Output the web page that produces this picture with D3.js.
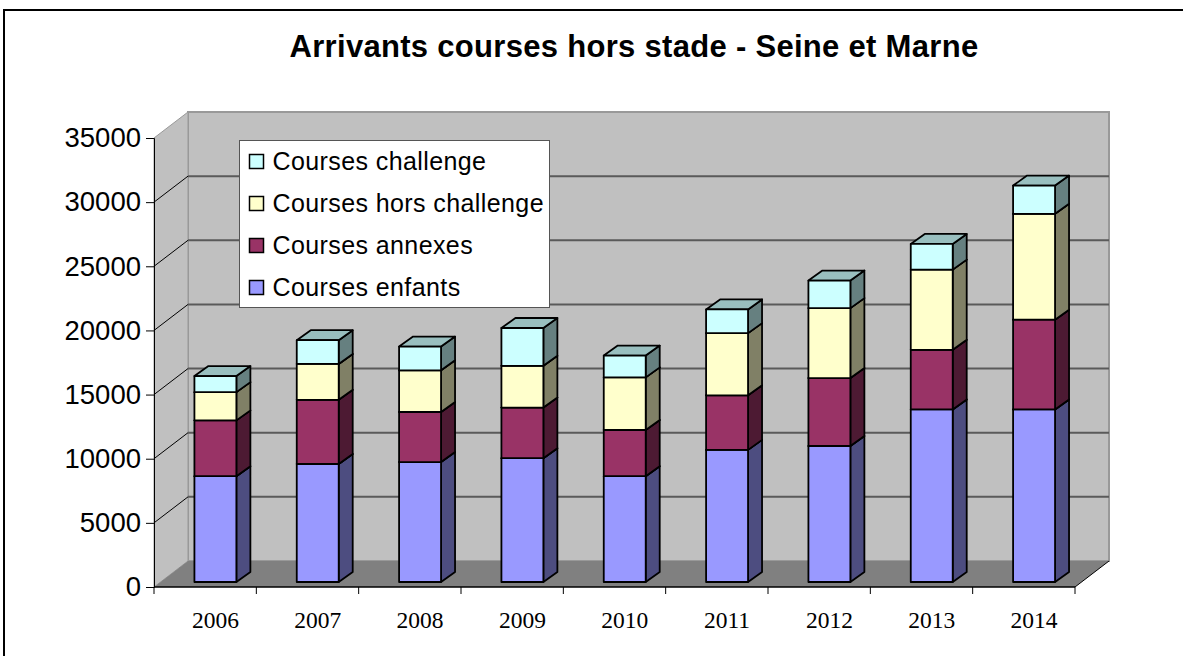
<!DOCTYPE html>
<html>
<head>
<meta charset="utf-8">
<script src="https://cdn.jsdelivr.net/npm/d3@7"></script>
<style>
  body { margin: 0; background: #fff; }
  svg { display: block; }
</style>
</head>
<body>
<svg width="1183" height="656"></svg>
<script>
// data
var years = ["2006", "2007", "2008", "2009", "2010", "2011", "2012", "2013", "2014"];
var enfants = [8250, 9200, 9350, 9650, 8250, 10300, 10600, 13450, 13450];
var annexes = [4350, 5000, 3900, 3950, 3600, 4250, 5300, 4650, 7000];
var horsChallenge = [2200, 2800, 3250, 3250, 4100, 4850, 5450, 6250, 8250];
var challenge = [1250, 1850, 1850, 2950, 1700, 1850, 2150, 2000, 2200];
var yTicks = [0, 5000, 10000, 15000, 20000, 25000, 30000, 35000];

var seriesKeys = ["enfants", "annexes", "hors", "challenge"];
var seriesNames = {
  enfants: "Courses enfants",
  annexes: "Courses annexes",
  hors: "Courses hors challenge",
  challenge: "Courses challenge"
};
// front, side, top shades (like excel 3d)
var colors = {
  enfants:   ["#9999FF", "#4D4D80", "#7373BF"],
  annexes:   ["#993366", "#4D1A33", "#732649"],
  hors:      ["#FFFFCC", "#808066", "#BFBF99"],
  challenge: ["#CCFFFF", "#668080", "#99BFBF"]
};

var rows = years.map(function(y, i) {
  return {year: y, enfants: enfants[i], annexes: annexes[i], hors: horsChallenge[i], challenge: challenge[i]};
});
var stacked = d3.stack().keys(seriesKeys)(rows);

var svg = d3.select("svg");
var sans = "'Liberation Sans', Arial, sans-serif";

// outer frame (right / bottom edge are outside the picture)
svg.append("rect")
  .attr("x", 4).attr("y", 10).attr("width", 1250).attr("height", 700)
  .attr("fill", "none").attr("stroke", "#000").attr("stroke-width", 2);

// title
svg.append("text")
  .attr("x", 634).attr("y", 57)
  .attr("text-anchor", "middle")
  .style("font-family", sans).style("font-weight", "bold").style("font-size", "31px")
  .style("letter-spacing", "0.3px")
  .text("Arrivants courses hors stade - Seine et Marne");

// plot geometry: front plane + depth offset
var x0 = 154, x1 = 1075, yBottom = 587, yTop = 138;
var DX = 34, DY = 26;           // depth of the box
var bdx = 14, bdy = 10;         // depth of each bar
var barLift = 5;                // bars stand a little behind the front edge

var x = d3.scaleBand().domain(years).range([x0, x1]).paddingInner(0).paddingOuter(0);
var y = d3.scaleLinear().domain([0, 35000]).range([yBottom, yTop]);

var g = svg.append("g");

// back wall
g.append("rect")
  .attr("x", x0 + DX).attr("y", yTop - DY)
  .attr("width", x1 - x0).attr("height", yBottom - yTop)
  .attr("fill", "#C0C0C0").attr("stroke", "#999").attr("stroke-width", 2);

// left wall
g.append("polygon")
  .attr("points", [[x0, yTop], [x0 + DX, yTop - DY], [x0 + DX, yBottom - DY], [x0, yBottom]].join(" "))
  .attr("fill", "#C0C0C0").attr("stroke", "#999").attr("stroke-width", 1);

// floor
g.append("polygon")
  .attr("points", [[x0, yBottom], [x1, yBottom], [x1 + DX, yBottom - DY], [x0 + DX, yBottom - DY]].join(" "))
  .attr("fill", "#808080");
g.append("line")
  .attr("x1", x1).attr("y1", yBottom).attr("x2", x1 + DX).attr("y2", yBottom - DY)
  .attr("stroke", "#000").attr("stroke-width", 1);

// gridlines on back wall and left wall
var grid = yTicks.filter(function(d) { return d > 0 && d < 35000; });
g.selectAll(".gridback").data(grid).enter().append("line")
  .attr("x1", x0 + DX).attr("x2", x1 + DX)
  .attr("y1", function(d) { return y(d) - DY; })
  .attr("y2", function(d) { return y(d) - DY; })
  .attr("stroke", "#5a5a5a").attr("stroke-width", 2);
g.selectAll(".gridside").data(grid).enter().append("line")
  .attr("x1", x0).attr("x2", x0 + DX)
  .attr("y1", function(d) { return y(d); })
  .attr("y2", function(d) { return y(d) - DY; })
  .attr("stroke", "#000").attr("stroke-width", 1);

// y axis
var yAxis = g.append("g")
  .attr("transform", "translate(" + x0 + ",0)")
  .call(d3.axisLeft(y).tickValues(yTicks).tickSize(8).tickPadding(5).tickFormat(d3.format("d")));
yAxis.select(".domain").attr("stroke", "#000");
yAxis.selectAll("text").style("font-family", sans).style("font-size", "27.5px").attr("fill", "#000");

// x axis (ticks on band edges)
g.append("line")
  .attr("x1", x0).attr("x2", x1).attr("y1", yBottom).attr("y2", yBottom)
  .attr("stroke", "#000").attr("stroke-width", 1.5);
var edges = years.map(function(d) { return x(d); }).concat([x1]);
g.selectAll(".xtick").data(edges).enter().append("line")
  .attr("x1", function(d) { return d; }).attr("x2", function(d) { return d; })
  .attr("y1", yBottom).attr("y2", yBottom + 7)
  .attr("stroke", "#000").attr("stroke-width", 1);

var bw = x.bandwidth() * 0.41;
var bOff = x.bandwidth() * 0.395;

g.selectAll(".xlabel").data(years).enter().append("text")
  .attr("x", function(d) { return x(d) + bOff + bw / 2; })
  .attr("y", 628)
  .attr("text-anchor", "middle")
  .style("font-family", "'Liberation Serif', 'Times New Roman', serif")
  .style("font-size", "23.5px")
  .text(function(d) { return d; });

// bars, bottom segment first so the upper ones cover the hidden tops
var bars = g.append("g");
years.forEach(function(yr, i) {
  stacked.forEach(function(s) {
    var d = s[i];
    var c = colors[s.key];
    var L = x(yr) + bOff, R = L + bw;
    var B = y(d[0]) - barLift, T = y(d[1]) - barLift;
    var seg = bars.append("g").attr("stroke", "#000").attr("stroke-width", 1.8).attr("stroke-linejoin", "round");
    seg.append("polygon")
      .attr("points", [[R, T], [R + bdx, T - bdy], [R + bdx, B - bdy], [R, B]].join(" "))
      .attr("fill", c[1]);
    seg.append("polygon")
      .attr("points", [[L, T], [L + bdx, T - bdy], [R + bdx, T - bdy], [R, T]].join(" "))
      .attr("fill", c[2]);
    seg.append("rect")
      .attr("x", L).attr("y", T).attr("width", bw).attr("height", B - T)
      .attr("fill", c[0]);
  });
});

// legend
var legend = svg.append("g").attr("transform", "translate(239.5,140.5)");
legend.append("rect")
  .attr("width", 310).attr("height", 167)
  .attr("fill", "#fff").attr("stroke", "#555").attr("stroke-width", 1);
var legendOrder = ["challenge", "hors", "annexes", "enfants"];
var item = legend.selectAll(".item").data(legendOrder).enter().append("g")
  .attr("transform", function(d, i) { return "translate(0," + (21 + i * 42) + ")"; });
item.append("rect")
  .attr("x", 10).attr("y", -7).attr("width", 14).attr("height", 14)
  .attr("fill", function(d) { return colors[d][0]; })
  .attr("stroke", "#000").attr("stroke-width", 1.5);
item.append("text")
  .attr("x", 33).attr("y", 0).attr("dy", "0.35em")
  .style("font-family", sans).style("font-size", "25px")
  .style("letter-spacing", "0.4px")
  .text(function(d) { return seriesNames[d]; });
</script>
</body>
</html>
